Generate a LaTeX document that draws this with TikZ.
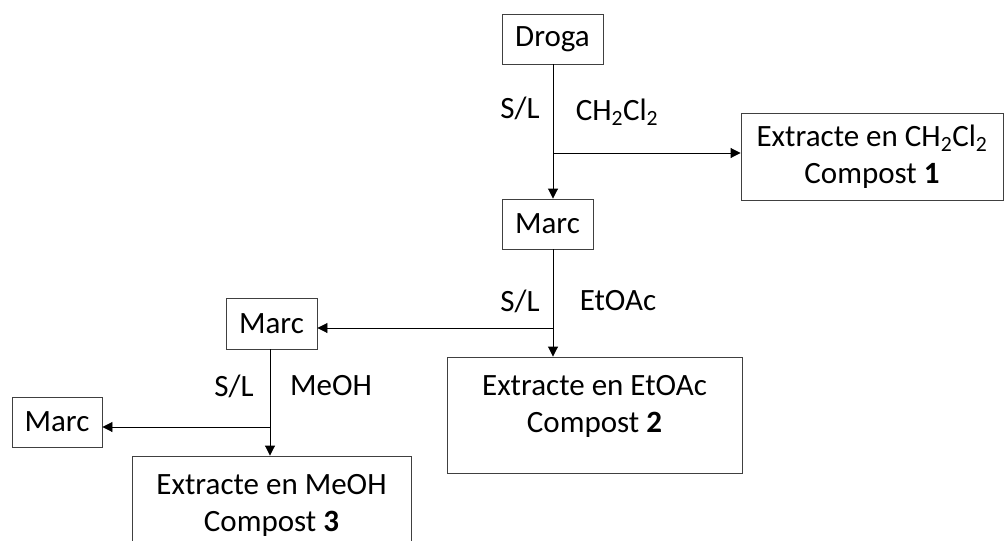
\documentclass[tikz,border=0pt]{standalone}
\usepackage{fontspec}
\setmainfont{Carlito}
\usetikzlibrary{arrows.meta}
\begin{document}
\begin{tikzpicture}[x=1pt,y=-1pt,
  box/.style={draw=black!75,line width=0.9pt,inner sep=0pt,align=center,
    font=\fontsize{31}{37}\selectfont},
  txt/.style={inner sep=0pt,align=center,font=\fontsize{31}{37}\selectfont},
  lbl/.style={inner sep=0pt,font=\fontsize{31}{38}\selectfont},
  conn/.style={line width=0.9pt,-{Triangle[length=10pt,width=10pt]}}]
\useasboundingbox (0,0) rectangle (1005,541);
\clip (0,0) rectangle (1005,541);
% boxes
\node[box,minimum width=101pt,minimum height=50pt] (D) at (552.5,39) {Droga};
\node[box,minimum width=91pt,minimum height=50pt] (M1) at (547.5,224) {Marc};
\node[box,minimum width=262pt,minimum height=87pt] (E1) at (872,156.5) {Extracte en CH\textsubscript{2}Cl\textsubscript{2}\\Compost \textbf{1}};
\node[box,minimum width=295pt,minimum height=116pt] (E2) at (594.5,415) {};
\node[txt] (E2t) at (594.5,406) {Extracte en EtOAc\\Compost \textbf{2}};
\node[box,minimum width=91pt,minimum height=51pt] (M2) at (271.5,323.5) {Marc};
\node[box,minimum width=90pt,minimum height=50pt] (M3) at (57,422) {Marc};
\node[box,minimum width=279pt,minimum height=116pt] (E3) at (271.5,514) {};
\node[txt] (E3t) at (271.5,505) {Extracte en MeOH\\Compost \textbf{3}};
% junctions
\coordinate (j1) at (553,153);
\coordinate (j2) at (553,328);
\coordinate (j3) at (270,427);
% labels
\node[lbl] (sl1) at (520,108) {S/L};
\node[lbl] (s1) at (617,112) {CH\textsubscript{2}Cl\textsubscript{2}};
\node[lbl] (sl2) at (520,301) {S/L};
\node[lbl] (s2) at (618,301) {EtOAc};
\node[lbl] (sl3) at (234,386) {S/L};
\node[lbl] (s3) at (331,386) {MeOH};
% connectors
\draw[conn] (j1 |- D.south) -- (j1 |- M1.north);
\draw[conn] (j1) -- (j1 -| E1.west);
\draw[conn] (j2 |- M1.south) -- (j2 |- E2.north);
\draw[conn] (j2) -- (j2 -| M2.east);
\draw[conn] (j3 |- M2.south) -- (j3 |- E3.north);
\draw[conn] (j3) -- (j3 -| M3.east);
\end{tikzpicture}
\end{document}
